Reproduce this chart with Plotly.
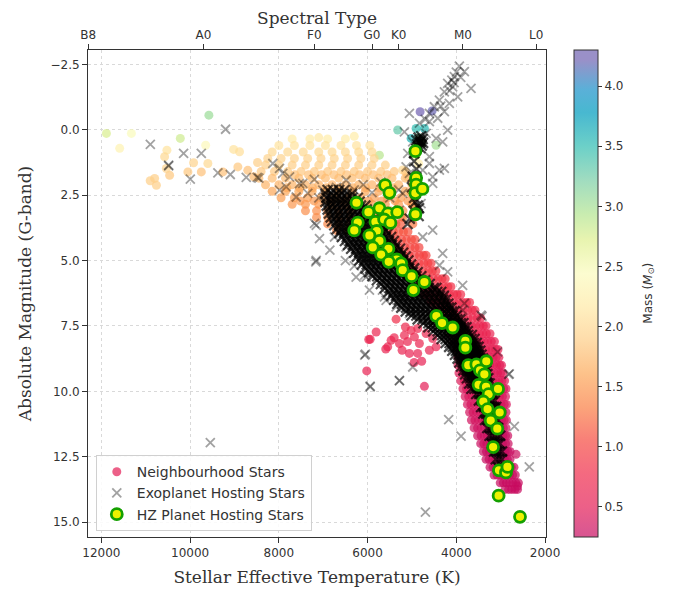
import plotly.graph_objects as go

# ---------------- axis / label data ----------------
spec_labels = ["B8", "A0", "F0", "G0", "K0", "M0", "L0"]
spec_teff = [12300, 9700, 7200, 5900, 5300, 3850, 2200]
temp_ticks = [12000, 10000, 8000, 6000, 4000, 2000]
mag_ticks = [-2.5, 0.0, 2.5, 5.0, 7.5, 10.0, 12.5, 15.0]
mass_ticks = [0.5, 1.0, 1.5, 2.0, 2.5, 3.0, 3.5, 4.0]

# ---------------- Neighbourhood stars: individually read points ----------------
nb_teff = [4719, 2654, 2620, 5357, 5147, 5807, 5974, 5942, 5546, 5590, 5282, 5222, 5057, 4870, 4944, 4832,
           6019, 5470, 5170, 5019, 4870, 4681, 4532, 4607, 4456, 5400, 5100, 4950, 4780,
           11887, 11324, 11588, 9577, 10221, 9650, 10523, 10575, 10800, 10760, 10462, 10536, 10050, 9922,
           9748, 9600, 9020, 8886, 8924, 9261, 8563, 8480, 8700, 10900,
           4816, 4546, 5321, 4906, 4719, 5019, 4456, 5733, 5208, 5019, 4944, 5244, 4980, 4850, 4780, 4900,
           4850, 5100, 4900, 6300, 7100]
nb_mag = [9.81, 12.41, 13.62, 7.24, 7.54, 7.73, 8.02, 8.01, 8.30, 8.38, 8.17, 8.43, 8.55, 8.55, 7.92, 8.17,
          9.22, 8.05, 7.86, 7.67, 7.60, 7.79, 7.98, 8.43, 8.30, 7.95, 8.10, 8.90, 8.85,
          0.14, 0.14, 0.71, -0.56, 0.33, 0.59, 0.78, 1.03, 1.86, 2.12, 1.74, 1.48, 1.61, 1.26,
          1.61, 1.29, 0.75, 0.84, 1.42, 1.61, 1.80, 1.25, 1.55, 1.95,
          -0.69, -0.72, 0.01, -0.05, -0.05, 0.33, 0.59, 0.97, 1.54, 2.43, 2.95, 3.33, 3.60, 0.30, 0.50, 1.00,
          1.30, 1.80, 2.00, 0.25, 0.30]
nb_mass = [0.50, 0.30, 0.20, 0.80, 0.72, 0.68, 0.65, 0.66, 0.64, 0.62, 0.66, 0.62, 0.60, 0.60, 0.68, 0.64,
           0.60, 0.66, 0.68, 0.70, 0.70, 0.68, 0.66, 0.60, 0.62, 0.68, 0.65, 0.58, 0.58,
           2.75, 2.45, 2.30, 3.05, 2.80, 2.40, 2.10, 2.00, 1.90, 1.90, 1.85, 1.95, 1.85, 1.95,
           1.80, 2.00, 2.10, 2.05, 1.85, 1.80, 1.75, 1.90, 1.80, 1.90,
           4.25, 4.20, 3.30, 3.50, 3.55, 3.60, 3.00, 2.90, 2.00, 1.60, 1.50, 1.35, 1.30, 3.20, 3.00, 2.50,
           2.20, 1.80, 1.70, 2.20, 2.15]

# ---------------- Neighbourhood stars: dense rows (magnitude, mass, temperatures) ----------------
nb_row_mag = [0.35, 0.6, 0.85, 1.1, 1.35, 1.6, 1.72, 1.85, 2.1, 2.22, 2.35, 2.6, 2.72, 2.85, 3.1, 3.35, 3.6, 3.85,
              3.6, 3.9, 4.2, 4.5, 4.8, 5.1, 5.4, 5.7, 6.0, 6.3, 6.6, 6.9, 7.2, 7.5, 7.8, 8.1, 8.4, 8.7,
              9.0, 9.3, 9.6, 9.9, 10.2, 10.5, 10.8, 11.1, 11.4, 11.7, 12.0, 12.3, 12.6, 12.9, 13.2, 13.5, 13.75]
nb_row_mass = [2.2, 2.1, 2.0, 1.95, 1.9, 1.85, 1.8, 1.76, 1.7, 1.66, 1.6, 1.55, 1.52, 1.5, 1.45, 1.42, 1.38, 1.35,
               1.15, 1.1, 1.06, 1.02, 0.98, 0.95, 0.92, 0.88, 0.85, 0.8, 0.77, 0.73, 0.7, 0.66, 0.62, 0.58, 0.55, 0.52,
               0.5, 0.47, 0.45, 0.42, 0.4, 0.38, 0.36, 0.34, 0.32, 0.3, 0.28, 0.26, 0.24, 0.22, 0.2, 0.18, 0.17]
nb_row_teff = [
    [7700, 7300, 6900, 6500],
    [8000, 7650, 7300, 6950, 6600, 6250, 5950],
    [8150, 7800, 7450, 7100, 6800, 6500, 6200, 5900],
    [8250, 7950, 7650, 7350, 7050, 6750, 6450, 6150, 5850],
    [8300, 8000, 7700, 7400, 7100, 6800, 6500, 6200, 5900, 5600],
    [8400, 8100, 7800, 7500, 7200, 6900, 6600, 6300, 6000, 5700, 5400, 5150],
    [7640, 7330, 7040, 6760, 6470, 6180, 5870, 5560],
    [8450, 8150, 7850, 7550, 7250, 6950, 6650, 6350, 6050, 5750, 5450, 5150],
    [8300, 8000, 7700, 7400, 7100, 6800, 6500, 6200, 5900, 5600, 5300, 5000],
    [7820, 7530, 7240, 6930, 6640, 6330, 6040, 5730, 5420],
    [8150, 7850, 7550, 7250, 6950, 6650, 6350, 6050, 5750, 5450, 5150, 4900],
    [7950, 7650, 7350, 7050, 6750, 6450, 6150, 5850, 5550, 5250, 4950],
    [7520, 7210, 6900, 6600, 6290, 5980, 5680, 5380, 5090],
    [7700, 7400, 7100, 6800, 6500, 6200, 5900, 5600, 5300, 5000],
    [7400, 7150, 6900, 6650, 6400, 6100, 5800, 5500, 5200],
    [7150, 6900, 6650, 6400, 6100, 5800, 5500, 5200],
    [6900, 6650, 6400, 6100, 5800, 5500],
    [6700, 6450, 6200, 5900, 5650],
    [5600, 5480, 5360, 5250],
    [5540, 5420, 5300, 5190, 5090],
    [5470, 5350, 5230, 5120, 5010, 4930],
    [5400, 5280, 5160, 5040, 4930, 4840],
    [5300, 5180, 5060, 4940, 4830, 4740, 4680],
    [5200, 5080, 4960, 4840, 4730, 4640, 4570],
    [5100, 4980, 4860, 4740, 4630, 4540, 4460],
    [4980, 4860, 4740, 4620, 4510, 4410, 4320, 4250],
    [4850, 4730, 4610, 4490, 4380, 4280, 4190, 4120],
    [4720, 4600, 4480, 4370, 4260, 4160, 4060, 3980, 3900],
    [4580, 4470, 4360, 4250, 4150, 4050, 3950, 3860, 3770, 3700],
    [4460, 4350, 4240, 4140, 4040, 3940, 3840, 3740, 3640, 3580],
    [4340, 4230, 4130, 4030, 3930, 3830, 3730, 3630, 3530, 3450],
    [4230, 4130, 4030, 3930, 3830, 3740, 3650, 3560, 3470, 3390, 3330],
    [4120, 4020, 3930, 3840, 3750, 3660, 3570, 3480, 3400, 3320, 3240],
    [4050, 3960, 3870, 3780, 3690, 3610, 3530, 3450, 3370, 3290, 3210, 3140],
    [4000, 3910, 3820, 3740, 3660, 3580, 3500, 3420, 3340, 3260, 3190, 3110, 3060],
    [3960, 3880, 3800, 3720, 3640, 3560, 3480, 3400, 3320, 3240, 3170, 3100, 3040],
    [3960, 3880, 3800, 3720, 3640, 3560, 3480, 3400, 3320, 3240, 3160, 3090, 3020, 2980],
    [3940, 3860, 3780, 3700, 3620, 3540, 3460, 3380, 3300, 3220, 3140, 3070, 3000, 2950],
    [3900, 3820, 3740, 3660, 3580, 3500, 3420, 3340, 3260, 3180, 3110, 3040, 2970, 2910],
    [3850, 3770, 3690, 3610, 3530, 3450, 3370, 3290, 3210, 3140, 3070, 3000, 2930, 2880],
    [3800, 3720, 3640, 3560, 3480, 3400, 3320, 3240, 3170, 3100, 3030, 2960, 2890],
    [3750, 3670, 3590, 3510, 3430, 3350, 3270, 3200, 3130, 3060, 2990, 2920, 2870],
    [3700, 3620, 3540, 3460, 3380, 3300, 3230, 3160, 3090, 3020, 2950, 2880],
    [3660, 3580, 3500, 3420, 3340, 3260, 3190, 3120, 3050, 2980, 2920, 2870],
    [3600, 3520, 3440, 3360, 3280, 3210, 3140, 3070, 3000, 2940, 2880],
    [3520, 3440, 3370, 3300, 3230, 3160, 3090, 3020, 2950, 2890, 2840],
    [3450, 3380, 3310, 3240, 3170, 3100, 3030, 2960, 2890, 2830],
    [3390, 3320, 3250, 3180, 3110, 3040, 2970, 2900, 2840, 2790],
    [3330, 3260, 3190, 3120, 3050, 2980, 2910, 2850, 2790],
    [3240, 3170, 3100, 3030, 2960, 2890, 2820, 2760, 2700],
    [3150, 3080, 3010, 2940, 2870, 2800, 2730, 2670],
    [3010, 2940, 2870, 2800, 2730, 2660, 2600],
    [2900, 2820, 2750, 2680, 2620],
]

# ---------------- Exoplanet hosting stars: individually read points ----------------
exo_teff = [9201, 10897, 10147, 9748, 10484, 10484, 9996, 9374, 9095, 8735, 8487, 8450, 9545,
            7985, 7759, 7460, 7347, 7010, 6860, 6634, 7834, 7609, 8136, 7911, 7985, 7535, 6483, 7200, 7100,
            6700, 6300, 6100, 5900, 5700, 5500, 5300,
            7197, 6746, 6483, 7158, 7084, 7158, 6634, 6258, 6033, 5958, 5582, 5357, 5057, 7167, 6064, 5665,
            5620, 6850, 6500, 6300,
            6064, 5942, 5942, 6048, 4982, 5282, 5282, 4172, 3893, 2692, 2355, 4696, 2805, 3069,
            4381, 4195, 3857, 3443, 3818, 3420, 4757, 4532, 4307, 3857, 2821,
            3931, 3818, 3668, 4044, 4195, 4082, 4269, 3969, 4381, 4157, 4494, 4269, 4607, 4419, 5057, 4607,
            4832, 4195, 5170, 4681, 4456, 4983, 4307, 4906, 5094, 4607, 4757, 4269, 4532, 5057, 4607, 5131,
            5208, 4794, 5282, 4381, 4532, 4100, 4050, 4000, 3900, 4150, 4350, 4700]
exo_mag = [-0.02, 0.56, 0.90, 0.90, 1.35, 1.38, 1.89, 1.65, 1.71, 1.82, 1.82, 1.85, 11.96,
           1.48, 1.80, 2.05, 2.43, 2.31, 2.69, 2.82, 2.18, 2.57, 1.29, 1.67, 2.31, 2.06, 1.93, 1.90, 2.60,
           2.20, 2.30, 2.10, 2.40, 2.00, 2.60, 2.30,
           3.58, 4.10, 4.48, 3.65, 4.16, 4.99, 3.97, 5.63, 5.63, 6.13, 6.52, 6.77, 7.03, 5.05, 5.56, 6.13,
           6.39, 4.60, 5.00, 5.20,
           8.62, 9.80, 9.83, 8.58, 9.07, 9.58, 9.60, 11.08, 11.71, 11.34, 12.89, 14.62, 9.33, 8.49,
           5.18, 5.43, 5.95, 7.09, 6.64, 7.13, 4.10, 3.84, 4.73, 6.90, 9.35,
           -2.43, -2.22, -1.58, -2.03, -1.77, -1.64, -1.45, -1.26, -1.13, -1.01, -0.88, -0.69, -0.63, -0.44, -0.63, -0.31,
           -0.25, 0.01, 0.08, 0.14, 0.33, 0.46, 0.46, 0.71, 0.90, 1.03, 1.54, 1.48, 1.80, 1.67, 1.29, 1.42,
           2.43, 2.82, 3.07, 1.54, 2.05, -1.90, -1.80, -2.20, -2.00, -1.50, -0.90, -0.40]

# dense clumps of exoplanet hosts (giant clump and giant branch, read as a cloud)
exo_clump_teff = [4850, 4800, 4780, 4820, 4760, 4880, 4830, 4790, 4870, 4810, 4750, 4900,
                  4950, 4900, 4980, 4880, 4950, 4870, 4960, 5050, 5100, 4850, 5000, 4950, 4920, 4840]
exo_clump_mag = [0.30, 0.45, 0.60, 0.50, 0.35, 0.55, 0.40, 0.25, 0.65, 0.70, 0.50, 0.40,
                 1.20, 1.50, 1.80, 2.00, 2.60, 2.90, 3.10, 3.40, 3.60, 3.30, 2.20, 0.90, 2.75, 3.00]

# ---------------- Exoplanet hosting stars: dense main-sequence rows ----------------
exo_row_mag = [2.30, 2.45, 2.60, 2.75, 2.90, 3.05, 3.20, 3.35, 3.50, 3.65, 3.80, 3.95, 4.10, 4.25, 4.40,
               4.55, 4.70, 4.85, 5.00, 5.15, 5.30, 5.45, 5.60, 5.75, 5.90, 6.05, 6.20, 6.35, 6.50, 6.65,
               6.80, 6.95, 7.10, 7.25, 7.40, 7.55, 7.70, 7.85, 8.00, 8.15, 8.30, 8.45, 8.60, 8.75, 8.90,
               9.05, 9.20, 9.35, 9.50, 9.70, 9.90, 10.1, 10.35, 10.6, 10.85, 11.1, 11.4, 11.7, 12.0, 12.3,
               12.6, 12.9]
exo_row_teff = [
    [6900, 6780, 6640, 6520],
    [6950, 6820, 6700, 6590, 6470, 6350],
    [6930, 6810, 6700, 6580, 6460, 6340, 6220],
    [6950, 6840, 6730, 6620, 6510, 6400, 6290, 6180],
    [6920, 6810, 6700, 6590, 6480, 6370, 6260, 6150, 6050],
    [6900, 6790, 6680, 6570, 6460, 6350, 6240, 6130, 6020],
    [6870, 6760, 6650, 6540, 6430, 6320, 6210, 6100, 5990, 5900],
    [6830, 6720, 6610, 6500, 6390, 6280, 6170, 6060, 5950, 5820],
    [6800, 6690, 6580, 6470, 6360, 6250, 6140, 6030, 5920, 5810, 5720],
    [6750, 6640, 6530, 6420, 6310, 6200, 6090, 5980, 5870, 5760, 5660],
    [6700, 6590, 6480, 6370, 6260, 6150, 6040, 5930, 5820, 5710, 5600],
    [6640, 6530, 6420, 6310, 6200, 6090, 5980, 5870, 5760, 5650, 5530],
    [6580, 6470, 6360, 6250, 6140, 6030, 5920, 5810, 5700, 5590, 5470],
    [6510, 6400, 6290, 6180, 6070, 5960, 5850, 5740, 5630, 5520, 5410],
    [6440, 6330, 6220, 6110, 6000, 5890, 5780, 5670, 5560, 5450, 5340],
    [6370, 6260, 6150, 6040, 5930, 5820, 5710, 5600, 5490, 5380, 5270],
    [6300, 6190, 6080, 5970, 5860, 5750, 5640, 5530, 5420, 5310, 5200],
    [6240, 6130, 6020, 5910, 5800, 5690, 5580, 5470, 5360, 5250, 5140],
    [6190, 6080, 5970, 5860, 5750, 5640, 5530, 5420, 5310, 5200, 5080],
    [6130, 6020, 5910, 5800, 5690, 5580, 5470, 5360, 5250, 5140, 5020],
    [6050, 5940, 5830, 5720, 5610, 5500, 5390, 5280, 5170, 5060, 4950],
    [5970, 5860, 5750, 5640, 5530, 5420, 5310, 5200, 5090, 4980, 4870],
    [5890, 5780, 5670, 5560, 5450, 5340, 5230, 5120, 5010, 4900, 4790],
    [5790, 5680, 5570, 5460, 5350, 5240, 5130, 5020, 4910, 4800, 4700],
    [5700, 5590, 5480, 5370, 5260, 5150, 5040, 4930, 4820, 4710, 4600],
    [5610, 5500, 5390, 5280, 5170, 5060, 4950, 4840, 4730, 4620, 4510, 4450],
    [5530, 5420, 5310, 5200, 5090, 4980, 4870, 4760, 4650, 4540, 4430, 4340],
    [5470, 5360, 5250, 5140, 5030, 4920, 4810, 4700, 4590, 4480, 4370, 4280],
    [5400, 5290, 5180, 5070, 4960, 4850, 4740, 4630, 4520, 4410, 4300, 4230],
    [5330, 5220, 5110, 5000, 4890, 4780, 4670, 4560, 4450, 4340, 4250, 4180],
    [5240, 5130, 5020, 4910, 4800, 4690, 4580, 4470, 4360, 4260, 4170, 4110],
    [5140, 5030, 4920, 4810, 4700, 4590, 4480, 4370, 4270, 4180, 4100, 4040],
    [5010, 4900, 4790, 4680, 4570, 4460, 4360, 4260, 4170, 4080, 3990],
    [4870, 4760, 4650, 4540, 4440, 4340, 4240, 4150, 4060, 3980, 3910],
    [4740, 4630, 4530, 4430, 4330, 4230, 4140, 4050, 3970, 3900, 3840],
    [4630, 4530, 4430, 4330, 4240, 4150, 4060, 3980, 3900, 3830, 3770],
    [4520, 4420, 4320, 4230, 4140, 4050, 3970, 3890, 3810, 3740],
    [4420, 4320, 4230, 4140, 4050, 3970, 3890, 3810, 3730, 3650],
    [4330, 4240, 4150, 4060, 3980, 3900, 3820, 3740, 3660, 3590],
    [4240, 4150, 4070, 3990, 3910, 3830, 3750, 3680, 3610, 3540],
    [4160, 4080, 4000, 3920, 3840, 3770, 3700, 3630, 3560, 3500],
    [4090, 4010, 3930, 3850, 3780, 3710, 3640, 3580, 3520, 3460],
    [4030, 3950, 3880, 3810, 3740, 3670, 3610, 3550, 3490, 3430],
    [3970, 3900, 3830, 3760, 3690, 3630, 3570, 3510, 3450, 3400],
    [3930, 3860, 3790, 3720, 3650, 3590, 3530, 3470, 3420, 3370],
    [3890, 3820, 3750, 3680, 3620, 3560, 3500, 3450, 3400, 3350],
    [3840, 3770, 3700, 3640, 3580, 3520, 3460, 3410, 3360, 3320],
    [3800, 3730, 3660, 3600, 3540, 3480, 3430, 3380, 3340, 3300],
    [3760, 3690, 3620, 3560, 3500, 3440, 3390, 3340, 3280],
    [3710, 3640, 3570, 3510, 3450, 3400, 3350, 3300, 3250],
    [3660, 3590, 3530, 3470, 3410, 3360, 3310, 3260, 3220],
    [3550, 3480, 3420, 3360, 3300, 3240, 3180],
    [3490, 3430, 3370, 3310, 3250, 3190, 3130],
    [3440, 3380, 3320, 3260, 3200, 3140, 3100],
    [3390, 3330, 3270, 3210, 3150, 3090],
    [3350, 3290, 3230, 3170, 3110, 3060],
    [3300, 3240, 3180, 3120, 3060],
    [3250, 3190, 3130, 3070, 3010],
    [3200, 3140, 3080, 3020],
    [3150, 3090, 3030, 2970],
    [3110, 3040, 2970],
    [3060, 2960],
]

# ---------------- HZ planet hosting stars ----------------
hz_teff = [4922, 4906, 4906, 4922, 4764, 4922, 5604, 5507, 6250, 5980, 5733, 5540, 5332, 5823, 5627, 5485,
           6221, 6300, 5793, 5958, 5733, 5883, 5530, 5695, 5343, 5523, 5244, 5208, 5008, 4719, 4967,
           4449, 4321, 4082, 3796, 3796, 3730, 3548, 3323, 3465, 3368, 3497, 3330, 3272, 3059, 3391,
           3294, 3022, 3225, 3075, 3170, 3038, 2880, 2847, 3046, 2564]
hz_mag = [0.82, 1.84, 2.10, 2.42, 2.26, 3.23, 2.12, 2.41, 2.79, 3.15, 3.00, 3.20, 3.15, 3.52, 3.43, 3.56,
          3.55, 3.85, 3.87, 4.04, 4.25, 4.50, 4.55, 4.77, 4.96, 5.05, 5.11, 5.37, 5.60, 5.82, 6.13,
          7.12, 7.39, 7.56, 8.07, 8.33, 9.00, 8.97, 8.85, 9.20, 9.35, 9.75, 9.83, 10.11, 9.91, 10.39,
          10.68, 10.81, 11.12, 11.43, 12.13, 13.02, 13.10, 12.89, 13.99, 14.80]

# ---------------- colours ----------------
mass_min, mass_max = 0.25, 4.3
cbar_mass = [0.25, 0.31, 0.5, 0.78, 1.06, 1.33, 1.61, 1.89, 2.17, 2.44, 2.72, 2.94, 3.22, 3.5, 3.78, 3.97, 4.22, 4.3]
cbar_hex = ["#d85490", "#dc5890", "#ec6088", "#f46a80", "#f88078", "#fba47a", "#fdc28a", "#fedcaa", "#fff0c0",
            "#fcfcd0", "#e8f4b0", "#c8ecb0", "#a0dcc0", "#6cd0c8", "#48b8d0", "#5ab0d8", "#9a90c8", "#9a90c8"]
ALPHA = 0.7


def hex_rgb(h):
    return tuple(int(h[i:i + 2], 16) for i in (1, 3, 5))


light_scale, vivid_scale = [], []
for m, h in zip(cbar_mass, cbar_hex):
    f = (m - mass_min) / (mass_max - mass_min)
    r, g, b = hex_rgb(h)
    light_scale.append([f, f"rgb({r},{g},{b})"])
    vr, vg, vb = [max(0, min(255, round((c - 255 * (1 - ALPHA)) / ALPHA))) for c in (r, g, b)]
    vivid_scale.append([f, f"rgb({vr},{vg},{vb})"])

# ---------------- assemble ----------------
all_nb_t, all_nb_m, all_nb_mass = list(nb_teff), list(nb_mag), list(nb_mass)
for mg, ms, row in zip(nb_row_mag, nb_row_mass, nb_row_teff):
    all_nb_t += row
    all_nb_m += [mg] * len(row)
    all_nb_mass += [ms] * len(row)

band_t, band_m = list(exo_clump_teff), list(exo_clump_mag)
for mg, row in zip(exo_row_mag, exo_row_teff):
    band_t += row
    band_m += [mg] * len(row)

XR = [12302, 1978]
YR = [15.57, -3.05]

fig = go.Figure()
fig.add_trace(go.Scatter(
    x=all_nb_t, y=all_nb_m, mode="markers", name="Neighbourhood Stars",
    marker=dict(size=9, color=all_nb_mass, colorscale=vivid_scale, cmin=mass_min, cmax=mass_max,
                opacity=ALPHA, line=dict(width=0), showscale=False),
))
fig.add_trace(go.Scatter(
    x=exo_teff, y=exo_mag, mode="markers", name="Exoplanet Hosting Stars", legendgroup="exo",
    marker=dict(symbol="x-thin", size=9, color="black", opacity=0.36,
                line=dict(width=1.8, color="black")),
))
fig.add_trace(go.Scatter(
    x=band_t, y=band_m, mode="markers", name="Exoplanet Hosting Stars", legendgroup="exo",
    showlegend=False,
    marker=dict(symbol="x-thin", size=10, color="black", opacity=0.7,
                line=dict(width=2.2, color="black")),
))
fig.add_trace(go.Scatter(
    x=hz_teff, y=hz_mag, mode="markers", name="HZ Planet Hosting Stars",
    marker=dict(symbol="circle", size=11, color="#eef200", line=dict(width=2.8, color="#14a000")),
))
fig.add_trace(go.Scatter(
    x=[None], y=[None], mode="markers", showlegend=False, hoverinfo="skip",
    marker=dict(color=[mass_min], colorscale=light_scale, cmin=mass_min, cmax=mass_max, showscale=True,
                colorbar=dict(
                    x=1.061, xanchor="left", y=0.5, yanchor="middle", len=1.0, lenmode="fraction",
                    xpad=0, ypad=0,
                    thickness=24, outlinewidth=1, outlinecolor="#333333",
                    tickvals=mass_ticks, ticktext=[f"{v:.1f}" for v in mass_ticks],
                    ticks="outside", ticklen=4, tickcolor="#333333",
                    tickfont=dict(family="DejaVu Sans", size=12, color="#333333"),
                )),
))
fig.add_trace(go.Scatter(x=[None], y=[None], xaxis="x2", showlegend=False, hoverinfo="skip", mode="markers"))

fig.add_annotation(
    text="Mass (<i>M</i><sub>⊙</sub>)", xref="paper", yref="paper", x=1.223, y=0.5,
    xanchor="center", yanchor="middle", textangle=-90, showarrow=False,
    font=dict(family="DejaVu Sans", size=12, color="#333333"),
)

axis_font = dict(family="DejaVu Sans", size=12, color="#333333")
title_font = dict(family="DejaVu Serif", size=17, color="#333333")

fig.update_layout(
    width=680, height=593,
    margin=dict(l=80, r=142, t=42, b=64, autoexpand=False),
    paper_bgcolor="white", plot_bgcolor="white",
    showlegend=True,
    legend=dict(x=0.017, y=0.012, xanchor="left", yanchor="bottom",
                bgcolor="rgba(255,255,255,0.85)", bordercolor="#d0d0d0", borderwidth=1,
                font=dict(family="DejaVu Sans", size=14, color="#333333"),
                tracegroupgap=0, itemwidth=30),
    xaxis=dict(range=XR, tickvals=temp_ticks, ticktext=[str(v) for v in temp_ticks], automargin=False,
               showgrid=True, gridcolor="#d9d9d9", griddash="dot", gridwidth=1,
               zeroline=False, showline=True, linecolor="#333333", linewidth=1, mirror=True,
               ticks="outside", ticklen=5, tickcolor="#333333", tickfont=axis_font,
               title=dict(text="Stellar Effective Temperature (K)", font=title_font, standoff=11)),
    xaxis2=dict(range=XR, overlaying="x", side="top", anchor="y", automargin=False,
                tickvals=spec_teff, ticktext=spec_labels, showgrid=False, zeroline=False,
                ticks="outside", ticklen=5, tickcolor="#333333", tickfont=axis_font,
                showline=False,
                title=dict(text="Spectral Type", font=title_font, standoff=2)),
    yaxis=dict(range=YR, tickvals=mag_ticks, ticktext=[f"{v:.1f}".replace("-", "\u2212") for v in mag_ticks],
               automargin=False,
               showgrid=True, gridcolor="#d9d9d9", griddash="dot", gridwidth=1,
               zeroline=False, showline=True, linecolor="#333333", linewidth=1, mirror=True,
               ticks="outside", ticklen=5, tickcolor="#333333", tickfont=axis_font,
               title=dict(text="Absolute Magnitude (G-band)", font=title_font, standoff=14)),
)

fig.write_html("out.html")
